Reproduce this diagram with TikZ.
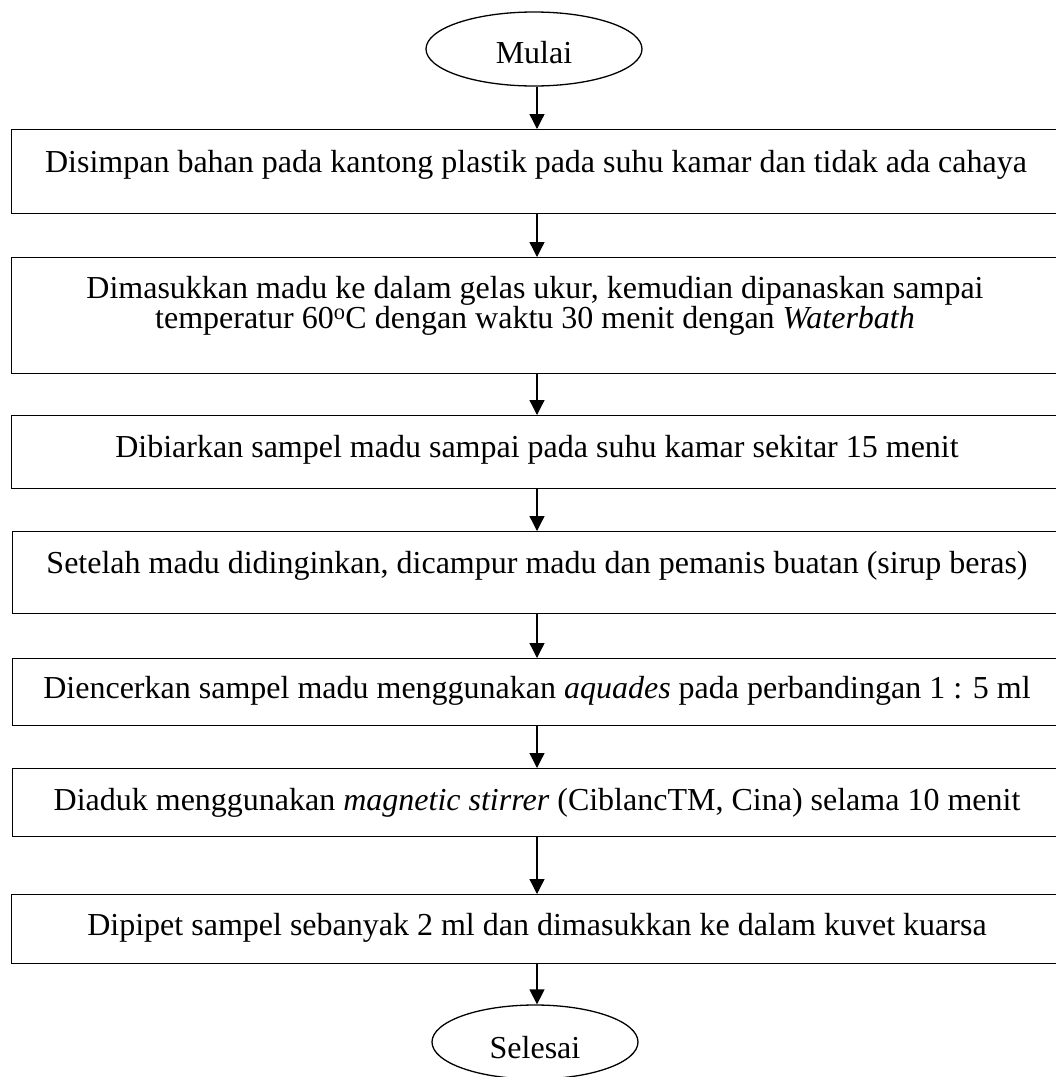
\documentclass[tikz,border=0pt]{standalone}
\usepackage{fontspec}
\setmainfont{Liberation Serif}
\usetikzlibrary{arrows.meta,shapes.geometric}
\begin{document}
\begin{tikzpicture}[x=1pt,y=-1pt,
  box/.style={draw, line width=1.3pt, minimum width=1059pt, inner sep=0pt, anchor=north west},
  oval/.style={draw, ellipse, line width=1.3pt, inner sep=0pt},
  txt/.style={anchor=base, inner sep=0pt, font=\fontsize{32}{30}\selectfont},
  arr/.style={line width=1.3pt, -{Triangle[width=15pt,length=15pt]}}]
\useasboundingbox (0,0) rectangle (1056,1077);
\clip (0,0) rectangle (1056,1077);
\coordinate (ax) at (537,0);
% start / end
\node[oval, minimum width=216pt, minimum height=74pt] (start) at (534,49) {};
\node[txt] (tstart) at (534,63) {Mulai};
\node[oval, minimum width=206pt, minimum height=74pt] (stop) at (535,1042) {};
\node[txt] (tstop) at (535,1058) {Selesai};
% boxes
\node[box, minimum height=84pt] (b1) at (11,129) {};
\node[txt] (t1) at (536,172) {Disimpan bahan pada kantong plastik pada suhu kamar dan tidak ada cahaya};
\node[box, minimum height=116pt] (b2) at (11,257) {};
\node[txt, align=center, anchor=center] (t2) at (535,305.5) {Dimasukkan madu ke dalam gelas ukur, kemudian dipanaskan sampai\\temperatur 60\textsuperscript{o}C dengan waktu 30 menit dengan \textit{Waterbath}};
\node[box, minimum height=73pt] (b3) at (11,415) {};
\node[txt] (t3) at (537,457) {Dibiarkan sampel madu sampai pada suhu kamar sekitar 15 menit};
\node[box, minimum height=82pt] (b4) at (12,531) {};
\node[txt] (t4) at (537,573) {Setelah madu didinginkan, dicampur madu dan pemanis buatan (sirup beras)};
\node[box, minimum height=67pt] (b5) at (12,658) {};
\node[txt] (t5) at (537,698) {Diencerkan sampel madu menggunakan \textit{aquades} pada perbandingan 1 : 5 ml};
\node[box, minimum height=68pt] (b6) at (12,768) {};
\node[txt] (t6) at (537,810) {Diaduk menggunakan \textit{magnetic stirrer} (CiblancTM, Cina) selama 10 menit};
\node[box, minimum height=69pt] (b7) at (11,894) {};
\node[txt] (t7) at (537,935) {Dipipet sampel sebanyak 2 ml dan dimasukkan ke dalam kuvet kuarsa};
% arrows
\draw[arr] (start.south -| ax) -- (b1.north -| ax);
\draw[arr] (b1.south -| ax) -- (b2.north -| ax);
\draw[arr] (b2.south -| ax) -- (b3.north -| ax);
\draw[arr] (b3.south -| ax) -- (b4.north -| ax);
\draw[arr] (b4.south -| ax) -- (b5.north -| ax);
\draw[arr] (b5.south -| ax) -- (b6.north -| ax);
\draw[arr] (b6.south -| ax) -- (b7.north -| ax);
\draw[arr] (b7.south -| ax) -- (stop.north -| ax);
\end{tikzpicture}
\end{document}
